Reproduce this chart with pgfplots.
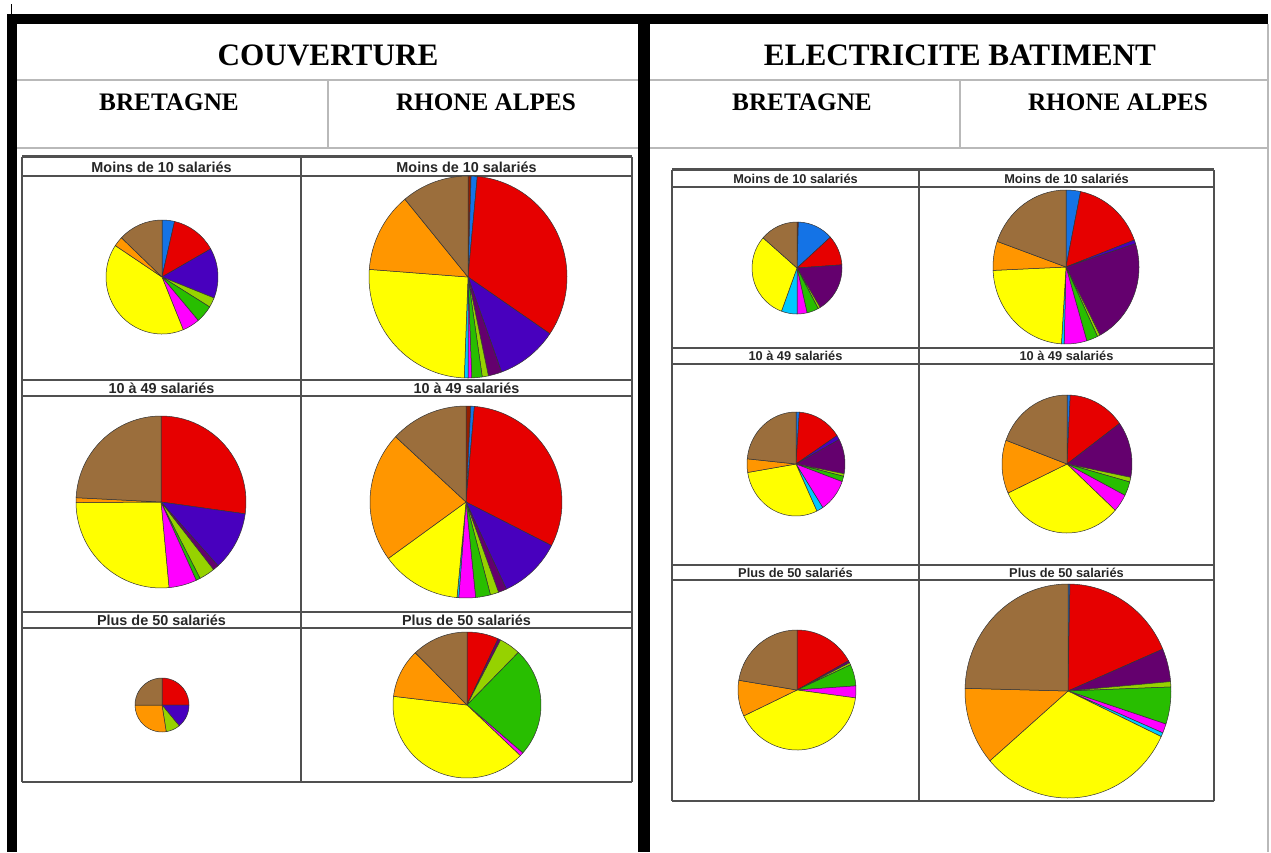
\documentclass[border=0pt]{standalone}
\usepackage{fontspec}
\setmainfont{Liberation Serif}
\newfontfamily\arial{Liberation Sans}
\usepackage{pgfplots}
\pgfplotsset{compat=1.18}

\definecolor{czero}{RGB}{150,30,0}
\definecolor{cblue}{RGB}{20,115,230}
\definecolor{cred}{RGB}{230,0,0}
\definecolor{cindigo}{RGB}{72,0,190}
\definecolor{cpurple}{RGB}{100,0,110}
\definecolor{cyg}{RGB}{150,210,0}
\definecolor{cgreen}{RGB}{40,190,0}
\definecolor{cmag}{RGB}{255,0,255}
\definecolor{ccyan}{RGB}{0,200,255}
\definecolor{cyellow}{RGB}{255,255,0}
\definecolor{corange}{RGB}{255,150,0}
\definecolor{cbrown}{RGB}{155,110,60}
\definecolor{gridc}{RGB}{80,80,80}
\definecolor{headc}{RGB}{185,185,185}

% pie data: colour/percent, clockwise from 12 o'clock
\def\CBa{cblue/3.6, cred/13.2, cindigo/14.2, cyg/2.8, cgreen/5, cmag/5, cyellow/40.5, corange/2.8, cbrown/12.9}
\def\CRa{czero/0.5, cblue/1, cred/33, cindigo/10, cpurple/2.2, cyg/1, cgreen/1.7, cmag/0.6, ccyan/0.6, cyellow/25.6, corange/12.8, cbrown/11}
\def\CBb{cred/27.2, cindigo/11.1, cpurple/1.1, cyg/3, cgreen/0.8, cmag/5.3, cyellow/26.4, corange/0.9, cbrown/24.2}
\def\CRb{czero/0.8, cblue/0.6, cred/31.1, cindigo/10.6, cpurple/1.4, cyg/1.4, cgreen/2.5, cmag/2.8, ccyan/0.3, cyellow/13.5, corange/21.9, cbrown/13.1}
\def\CBc{cred/25, cindigo/14, cyg/8.5, corange/27.5, cbrown/25}
\def\CRc{cred/6.9, cpurple/0.6, cyg/4.7, cgreen/24.2, cmag/0.8, cyellow/39.7, corange/10.8, cbrown/12.3}
\def\EBa{czero/0.5, cblue/12.8, cred/10.6, cpurple/17.5, cyg/0.8, cgreen/4.2, cmag/3.6, ccyan/5.6, cyellow/30.8, cbrown/13.6}
\def\ERa{cblue/3.2, cred/16.1, cindigo/0.8, cpurple/22.2, cyg/0.6, cgreen/2.5, cmag/5, ccyan/0.6, cyellow/23.3, corange/6.1, cbrown/19.6}
\def\EBb{cblue/1.1, cred/14.7, cindigo/1.4, cpurple/10.8, cyg/0.8, cgreen/1.7, cmag/10.3, ccyan/2.2, cyellow/29.4, corange/4.2, cbrown/23.4}
\def\ERb{cblue/0.8, cred/14.2, cpurple/13.1, cyg/1.1, cgreen/3.3, cmag/4.2, cyellow/31.4, corange/12.5, cbrown/19.4}
\def\EBc{cred/16.9, cpurple/0.6, cyg/0.6, cgreen/5.8, cmag/3.2, cyellow/40.8, corange/9.7, cbrown/22.4}
\def\ERc{cblue/0.3, cred/18.3, cpurple/5, cyg/0.8, cgreen/5.6, cmag/1.4, ccyan/0.6, cyellow/31.7, corange/11.7, cbrown/24.6}

% \pie{cx}{cy}{rx px}{ry px}{list}
\newcommand{\pie}[5]{%
  \gdef\cumul{0}%
  \pgfmathsetmacro{\prx}{#3*0.5}%
  \pgfmathsetmacro{\pry}{#4*0.5}%
  \foreach \col/\val in #5{%
    \pgfmathsetmacro{\aA}{90-3.6*\cumul}%
    \pgfmathsetmacro{\aB}{90-3.6*(\cumul+\val)}%
    \edef\tmp{\noexpand\filldraw[fill=\col,draw=black!80,line width=0.25pt,line join=round]
      (axis cs:#1,#2) -- ++(\aA:\prx pt and \pry pt)
      arc[start angle=\aA,end angle=\aB,x radius=\prx pt,y radius=\pry pt] -- cycle;}%
    \tmp
    \pgfmathsetmacro{\newc}{\cumul+\val}%
    \xdef\cumul{\newc}%
  }%
}

\newcommand{\hl}[4][gridc]{\draw[#1,line width=0.55pt] (axis cs:#2,#4) -- (axis cs:#3,#4);}
\newcommand{\vl}[4][gridc]{\draw[#1,line width=0.55pt] (axis cs:#4,#2) -- (axis cs:#4,#3);}

\begin{document}
\begin{tikzpicture}
\begin{axis}[width=635.5pt, height=426pt, scale only axis,
  xmin=0, xmax=1271, ymin=0, ymax=852, y dir=reverse,
  hide axis, clip=false]
\path (axis cs:0,0) rectangle (axis cs:1271,852);

% thick black frame
\fill[black] (axis cs:7,14) rectangle (axis cs:1268,24);
\fill[black] (axis cs:7,14) rectangle (axis cs:17,852);
\fill[black] (axis cs:638,14) rectangle (axis cs:650,852);
\draw[black, line width=0.5pt] (axis cs:11,4) -- (axis cs:11,14);
\draw[headc, line width=0.6pt] (axis cs:1268,24) -- (axis cs:1268,852);

% header lines
\hl[headc]{17}{638}{80}
\hl[headc]{17}{638}{148}
\hl[headc]{650}{1268}{80}
\hl[headc]{650}{1268}{148}
\vl[headc]{80}{148}{328}
\vl[headc]{80}{148}{960}

% header texts
\node[font=\fontsize{15.6}{18}\selectfont\bfseries] at (axis cs:328,55) {COUVERTURE};
\node[font=\fontsize{15.6}{18}\selectfont\bfseries] at (axis cs:960,55) {ELECTRICITE BATIMENT};
\node[font=\fontsize{12.6}{15}\selectfont\bfseries] at (axis cs:169,102) {BRETAGNE};
\node[font=\fontsize{12.6}{15}\selectfont\bfseries] at (axis cs:486,102) {RHONE ALPES};
\node[font=\fontsize{12.6}{15}\selectfont\bfseries] at (axis cs:802,102) {BRETAGNE};
\node[font=\fontsize{12.6}{15}\selectfont\bfseries] at (axis cs:1118,102) {RHONE ALPES};

% left grid
\hl{22}{632}{157}
\hl{22}{632}{176}
\hl{22}{632}{380}
\hl{22}{632}{396}
\hl{22}{632}{612}
\hl{22}{632}{628}
\hl{22}{632}{782}
\vl{157}{782}{22}
\vl{157}{782}{301}
\vl{157}{782}{632}
\draw[gridc, line width=0.4pt] (axis cs:22,155) -- (axis cs:632,155);

% right grid
\hl{672}{1214}{170}
\hl{672}{1214}{187}
\hl{672}{1214}{348}
\hl{672}{1214}{364}
\hl{672}{1214}{565}
\hl{672}{1214}{580}
\hl{672}{1214}{801}
\vl{170}{801}{672}
\vl{170}{801}{919}
\vl{170}{801}{1214}
\draw[gridc, line width=0.4pt] (axis cs:672,168) -- (axis cs:1214,168);

% cell titles
\begin{scope}[every node/.style={font=\arial\fontsize{7.2}{8}\selectfont\bfseries, text=black!85}]
\node at (axis cs:161.5,167) {Moins de 10 salariés};
\node at (axis cs:466.5,167) {Moins de 10 salariés};
\node at (axis cs:161.5,388) {10 à 49 salariés};
\node at (axis cs:466.5,388) {10 à 49 salariés};
\node at (axis cs:161.5,620) {Plus de 50 salariés};
\node at (axis cs:466.5,620) {Plus de 50 salariés};
\end{scope}
\begin{scope}[every node/.style={font=\arial\fontsize{6.4}{7.5}\selectfont\bfseries, text=black!85}]
\node at (axis cs:795.5,179) {Moins de 10 salariés};
\node at (axis cs:1066.5,179) {Moins de 10 salariés};
\node at (axis cs:795.5,356) {10 à 49 salariés};
\node at (axis cs:1066.5,356) {10 à 49 salariés};
\node at (axis cs:795.5,572.5) {Plus de 50 salariés};
\node at (axis cs:1066.5,572.5) {Plus de 50 salariés};
\end{scope}

% pies
\pie{162}{277}{56}{57}{\CBa}
\pie{468}{277}{99}{101}{\CRa}
\pie{161}{502}{85}{86}{\CBb}
\pie{466}{502}{96}{96}{\CRb}
\pie{162}{705}{27}{27}{\CBc}
\pie{467}{705}{74}{73}{\CRc}
\pie{797}{268}{45}{46}{\EBa}
\pie{1066}{267}{73}{77}{\ERa}
\pie{796}{464}{49}{52}{\EBb}
\pie{1067}{464}{65}{69}{\ERb}
\pie{797}{690}{59}{60}{\EBc}
\pie{1068}{691}{103}{107}{\ERc}
\end{axis}
\end{tikzpicture}
\end{document}
